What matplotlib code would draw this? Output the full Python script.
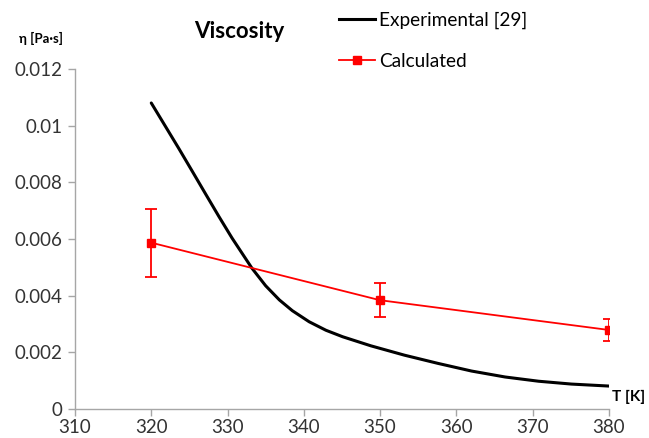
import numpy as np
import matplotlib.pyplot as plt
from matplotlib.lines import Line2D

plt.rcParams['font.family'] = ['Lato', 'DejaVu Sans']

# experimental curve [29]
exp_T = [320, 321.8, 323.6, 325.4, 327.1, 328.9, 330.6, 333.2, 335, 336.8,
         338.5, 340.7, 342.9, 345.1, 348.8, 353.2, 357.6, 362, 366.4,
         370.8, 375.1, 380]
exp_eta = [0.0108, 0.0100, 0.0092, 0.00838, 0.0076, 0.00678, 0.00603,
           0.00497, 0.00435, 0.00385, 0.00347, 0.00308, 0.00278, 0.00255,
           0.00223, 0.0019, 0.00161, 0.00134, 0.00113, 0.00098, 0.00088,
           0.00081]

# calculated points with error bars
calc_T = [320, 350, 380]
calc_eta = [0.00587, 0.00384, 0.00279]
calc_err = [0.0012, 0.0006, 0.00038]

xticks = [310, 320, 330, 340, 350, 360, 370, 380]
yticks = [0, 0.002, 0.004, 0.006, 0.008, 0.01, 0.012]
ylabels = ['0', '0.002', '0.004', '0.006', '0.008', '0.01', '0.012']

fig = plt.figure(figsize=(6.49, 4.38), dpi=100)
ax = fig.add_axes([0.1156, 0.0662, 0.8224, 0.7763])

ax.plot(exp_T, exp_eta, color='black', lw=2.2, solid_capstyle='round',
        solid_joinstyle='round')
ax.errorbar(calc_T, calc_eta, yerr=calc_err, color='#ff0000', lw=1.3,
            marker='s', markersize=6, capsize=4, capthick=1.3, elinewidth=1.3)

ax.set_xlim(310, 380)
ax.set_ylim(0, 0.012)
ax.set_xticks(xticks)
ax.set_yticks(yticks)
ax.set_yticklabels(ylabels)
for s in ['top', 'right']:
    ax.spines[s].set_visible(False)
for s in ['left', 'bottom']:
    ax.spines[s].set_color('#a6a6a6')
    ax.spines[s].set_linewidth(1.0)
ax.tick_params(direction='out', length=5, width=1.0, color='#a6a6a6',
               labelsize=13.5, labelcolor='#333333')
ax.tick_params(axis='y', pad=4)
ax.tick_params(axis='x', pad=2)

fig.text(239 / 649, 1 - 32 / 438, 'Viscosity', ha='center', va='center',
         fontsize=16, fontweight='bold')
fig.text(41 / 649, 1 - 38 / 438, 'η [Pa·s]', ha='center', va='center',
         fontsize=9.5, fontweight='bold')
fig.text(629 / 649, 1 - 397 / 438, 'T [K]', ha='center', va='center',
         fontsize=11, fontweight='bold')

h1 = Line2D([], [], color='black', lw=2.2)
h2 = Line2D([], [], color='#ff0000', lw=1.3, marker='s', markersize=6)
fig.legend([h1, h2], ['Experimental [29]', 'Calculated'],
           loc='upper left', bbox_to_anchor=(322 / 649, 1.013),
           frameon=False, fontsize=13.7, handlelength=1.9, handletextpad=0.2,
           labelspacing=1.28)

fig.savefig('out.png', dpi=100)
